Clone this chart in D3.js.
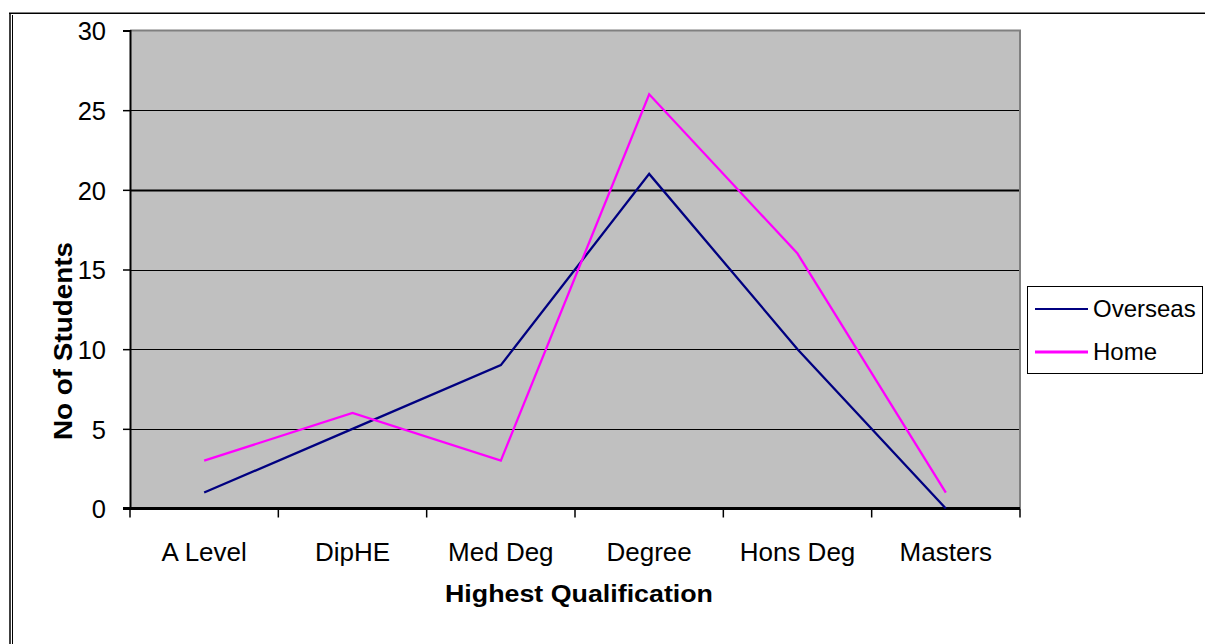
<!DOCTYPE html>
<html lang="en">
<head>
  <meta charset="UTF-8">
  <title>Highest Qualification</title>
  <script src="https://d3js.org/d3.v7.min.js"></script>
  <style>
    body {
      margin: 0;
      background: #fff;
    }
    svg {
      display: block;
      font-family: "Liberation Sans", Arial, sans-serif;
    }
  </style>
</head>
<body>
  <div id="chart"></div>

  <script>
    // data
    const categories = ["A Level", "DipHE", "Med Deg", "Degree", "Hons Deg", "Masters"];
    const overseas   = [1, 5, 9, 21, 10, 0];
    const home       = [3, 6, 3, 26, 16, 1];
    const yTicks     = [0, 5, 10, 15, 20, 25, 30];

    const series = [
      { name: "Overseas", values: overseas, color: "#000080", legendWidth: 2 },
      { name: "Home",     values: home,     color: "#FF00FF", legendWidth: 3 }
    ];

    const width = 1205, height = 644;
    const plot = { left: 130, right: 1020, top: 30.5, bottom: 508.5 };

    const svg = d3.select("#chart").append("svg")
      .attr("width", width)
      .attr("height", height);

    // outer frame (double line on the left, single on top)
    svg.append("line").attr("x1", 10).attr("x2", 10).attr("y1", 13).attr("y2", height)
      .attr("stroke", "#000").attr("stroke-width", 1.5);
    svg.append("line").attr("x1", 12.5).attr("x2", 12.5).attr("y1", 15).attr("y2", height)
      .attr("stroke", "#000").attr("stroke-width", 1);
    svg.append("line").attr("x1", 9).attr("x2", width).attr("y1", 13.3).attr("y2", 13.3)
      .attr("stroke", "#000").attr("stroke-width", 1.6);

    const x = d3.scaleBand()
      .domain(categories)
      .range([plot.left, plot.right])
      .padding(0);

    const y = d3.scaleLinear()
      .domain([0, 30])
      .range([plot.bottom, plot.top]);

    // plot background
    svg.append("rect")
      .attr("x", plot.left).attr("y", plot.top)
      .attr("width", plot.right - plot.left)
      .attr("height", plot.bottom - plot.top)
      .attr("fill", "#C0C0C0");

    // plot border (gray top and right)
    svg.append("path")
      .attr("d", `M${plot.left},${plot.top}H${plot.right}V${plot.bottom}`)
      .attr("fill", "none")
      .attr("stroke", "#808080")
      .attr("stroke-width", 2);

    // gridlines
    svg.append("g")
      .selectAll("line")
      .data(yTicks.filter(d => d > 0 && d < 30))
      .join("line")
        .attr("x1", plot.left).attr("x2", plot.right - 1)
        .attr("y1", d => Math.round(y(d)) + 0.5)
        .attr("y2", d => Math.round(y(d)) + 0.5)
        .attr("stroke", "#000")
        .attr("stroke-width", d => d === 20 ? 2 : 1);

    // y axis
    const yAxis = svg.append("g")
      .attr("transform", `translate(${plot.left},0)`)
      .call(d3.axisLeft(y).tickValues(yTicks).tickSize(7).tickPadding(17));
    yAxis.select(".domain").attr("stroke", "#000").attr("stroke-width", 2);
    yAxis.selectAll(".tick line").attr("stroke-width", 1.5);
    yAxis.selectAll(".tick text")
      .attr("font-family", "'Liberation Sans', Arial, sans-serif")
      .attr("font-size", 25.5)
      .attr("fill", "#000")
      .attr("dy", "0.36em");

    // x axis: ticks at category boundaries
    const xAxis = svg.append("g")
      .attr("transform", `translate(0,${plot.bottom})`);
    xAxis.append("line")
      .attr("x1", plot.left - 7).attr("x2", plot.right)
      .attr("y1", 0).attr("y2", 0)
      .attr("stroke", "#000").attr("stroke-width", 3);
    const bounds = categories.map(c => x(c)).concat([x.range()[1]]);
    xAxis.selectAll("line.tick")
      .data(bounds)
      .join("line")
        .attr("class", "tick")
        .attr("x1", d => d).attr("x2", d => d)
        .attr("y1", 0).attr("y2", 9)
        .attr("stroke", "#000").attr("stroke-width", 1.5);
    xAxis.selectAll("text")
      .data(categories)
      .join("text")
        .attr("x", d => x(d) + x.bandwidth() / 2)
        .attr("y", 52)
        .attr("text-anchor", "middle")
        .attr("font-size", 26)
        .attr("fill", "#000")
        .text(d => d);

    // lines
    const line = d3.line()
      .x((d, i) => x(categories[i]) + x.bandwidth() / 2)
      .y(d => y(d));

    svg.append("g")
      .selectAll("path")
      .data(series)
      .join("path")
        .attr("d", d => line(d.values))
        .attr("fill", "none")
        .attr("stroke", d => d.color)
        .attr("stroke-width", 2.3)
        .attr("stroke-linejoin", "miter");

    // axis titles
    svg.append("text")
      .attr("x", 579).attr("y", 601.5)
      .attr("text-anchor", "middle")
      .attr("font-size", 23)
      .attr("font-weight", "bold")
      .attr("textLength", 268)
      .attr("lengthAdjust", "spacingAndGlyphs")
      .text("Highest Qualification");

    svg.append("text")
      .attr("transform", "translate(72,341) rotate(-90)")
      .attr("text-anchor", "middle")
      .attr("font-size", 25)
      .attr("font-weight", "bold")
      .attr("textLength", 198)
      .attr("lengthAdjust", "spacingAndGlyphs")
      .text("No of Students");

    // legend
    const legend = svg.append("g");
    legend.append("rect")
      .attr("x", 1027.5).attr("y", 286.5)
      .attr("width", 175).attr("height", 87)
      .attr("fill", "#fff")
      .attr("stroke", "#000")
      .attr("stroke-width", 1);
    const items = legend.selectAll("g.item")
      .data(series)
      .join("g")
        .attr("class", "item")
        .attr("transform", (d, i) => `translate(0,${309 + i * 43})`);
    items.append("line")
      .attr("x1", 1035).attr("x2", 1088)
      .attr("stroke", d => d.color)
      .attr("stroke-width", d => d.legendWidth);
    items.append("text")
      .attr("x", 1093).attr("y", 8)
      .attr("font-size", 24)
      .attr("fill", "#000")
      .text(d => d.name);
  </script>
</body>
</html>
